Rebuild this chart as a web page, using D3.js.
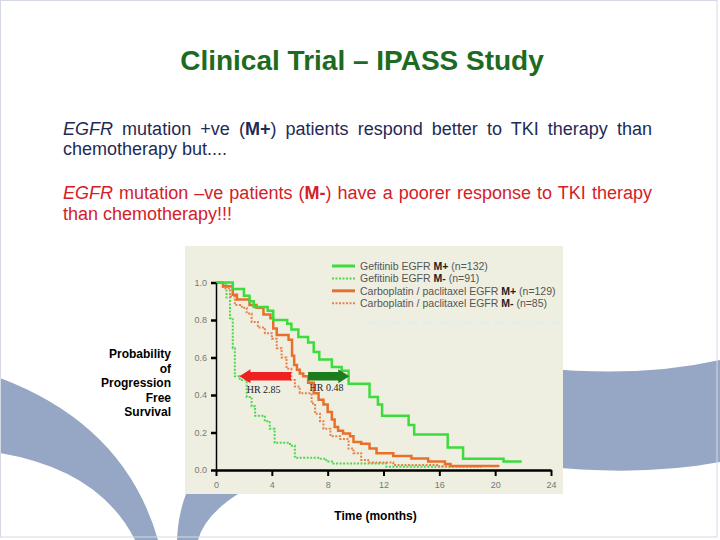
<!DOCTYPE html>
<html>
<head>
<meta charset="utf-8">
<script src="https://cdn.jsdelivr.net/npm/d3@7"></script>
<style>
  body { margin: 0; background: #fff; }
  svg { display: block; }
</style>
</head>
<body>
<svg></svg>
<script>
// Kaplan-Meier style step data: [month, probability]
let gefitinibPos = [[0,1.0],[1.2,0.965],[2.0,0.93],[2.4,0.90],[2.7,0.87],[3.7,0.85],[4.1,0.80],[5.1,0.78],[5.4,0.75],[5.9,0.71],[6.6,0.68],[7.0,0.63],[7.4,0.59],[8.3,0.55],[9.0,0.53],[9.5,0.46],[11.0,0.39],[11.6,0.35],[11.9,0.29],[13.8,0.24],[14.2,0.19],[16.6,0.12],[17.7,0.06],[20.6,0.045],[21.9,0.045]];
let gefitinibNeg = [[0,1.0],[0.5,0.99],[0.75,0.92],[1.0,0.81],[1.2,0.65],[1.35,0.5],[1.7,0.48],[2.2,0.39],[2.55,0.34],[2.8,0.29],[3.5,0.26],[3.85,0.22],[4.2,0.145],[5.3,0.13],[5.65,0.065],[7.4,0.06],[7.9,0.045],[8.4,0.035],[12.2,0.018],[19.0,0.018]];
let carboPos = [[0,1.0],[0.5,0.98],[1.2,0.935],[1.5,0.91],[2.4,0.88],[2.9,0.865],[3.4,0.83],[3.9,0.81],[4.1,0.755],[4.35,0.72],[5.2,0.695],[5.45,0.61],[5.6,0.56],[5.8,0.535],[6.0,0.515],[6.25,0.5],[6.6,0.465],[7.0,0.41],[7.35,0.375],[7.7,0.35],[8.0,0.31],[8.3,0.27],[8.5,0.23],[8.75,0.21],[9.1,0.195],[9.6,0.18],[9.85,0.15],[10.4,0.14],[11.0,0.115],[11.5,0.09],[12.7,0.075],[14.0,0.062],[15.2,0.045],[16.4,0.032],[16.8,0.021],[20.3,0.021]];
let carboNeg = [[0,1.0],[0.5,0.97],[1.0,0.925],[1.35,0.88],[1.85,0.865],[2.2,0.835],[2.55,0.79],[3.0,0.76],[3.5,0.73],[4.0,0.70],[4.35,0.65],[4.7,0.60],[5.05,0.54],[5.4,0.48],[5.65,0.445],[6.0,0.41],[6.85,0.355],[7.1,0.30],[7.45,0.26],[7.7,0.22],[8.2,0.18],[8.9,0.165],[9.5,0.115],[9.85,0.09],[10.4,0.053],[10.9,0.04],[12.7,0.027],[16.0,0.02],[19.2,0.02]];

let monthTicks = [0, 4, 8, 12, 16, 20, 24];
let probTicks = [0, 0.2, 0.4, 0.6, 0.8, 1.0];

let legendNames = ['Gefitinib EGFR ', 'Gefitinib EGFR ', 'Carboplatin / paclitaxel EGFR ', 'Carboplatin / paclitaxel EGFR '];
let legendGroups = ['M+', 'M-', 'M+', 'M-'];
let legendCounts = [' (n=132)', ' (n=91)', ' (n=129)', ' (n=85)'];

// hazard ratio arrows: [from month, to month, probability]
let hrLabels = ['HR 2.85', 'HR 0.48'];
let hrArrows = [[5.37, 1.68, 0.5], [6.6, 9.55, 0.5]];

let width = 720;
let height = 540;

let svg = d3.select('svg').attr('width', width).attr('height', height);

let xScale;
let yScale;

let drawBackground = () => {
  svg.append('rect').attr('width', width).attr('height', height).attr('fill', '#fff');
  let band = '#95a7c4';
  svg.append('path').attr('fill', band)
     .attr('d', 'M0,378 Q125,425 158,540 L135,540 Q100,470 0,453 Z');
  svg.append('path').attr('fill', band)
     .attr('d', 'M186,494 L238,494 Q205,515 198,540 L177,540 Q178,515 186,494 Z');
  svg.append('path').attr('fill', band)
     .attr('d', 'M540,368 Q640,378 720,360 L720,462 Q640,477 540,466 Z');
  svg.append('rect').attr('x', 0.5).attr('y', 0.5).attr('width', 716.5).attr('height', 536.5)
     .attr('fill', 'none').attr('stroke', '#d5d9e6');
  // chart panel
  svg.append('rect').attr('x', 185).attr('y', 246).attr('width', 378).attr('height', 248)
     .attr('fill', '#efefe1');
  svg.append('line').attr('x1', 368).attr('x2', 563).attr('y1', 323).attr('y2', 323)
     .attr('stroke', '#dff0ee').attr('stroke-width', 3).attr('stroke-dasharray', '14,4');
}

let drawText = () => {
  svg.append('text').attr('x', 362).attr('y', 70).attr('text-anchor', 'middle')
     .attr('font-family', 'Liberation Sans, Arial, sans-serif').attr('font-weight', 'bold')
     .attr('font-size', 28).attr('fill', '#1d6b20')
     .text('Clinical Trial \u2013 IPASS Study');

  let para = (y, color, parts, justify) => {
    let t = svg.append('text').attr('x', 63).attr('y', y)
       .attr('font-family', 'Liberation Sans, Arial, sans-serif').attr('font-size', 18)
       .attr('fill', color);
    parts.forEach(p => {
      let s = t.append('tspan').text(p[0]);
      if (p[1] === 'i') s.attr('font-style', 'italic');
      if (p[1] === 'b') s.attr('font-weight', 'bold');
    });
    if (justify) {
      let natural = t.node().getComputedTextLength();
      let full = parts.map(p => p[0]).join('');
      let spaces = full.split(' ').length - 1;
      t.attr('word-spacing', (589 - natural) / spaces);
    }
  }
  let blue = '#1f2a55';
  let red = '#d42027';
  para(134.5, blue, [['EGFR', 'i'], [' mutation +ve ('], ['M+', 'b'], [') patients respond better to TKI therapy than']], true);
  para(155, blue, [['chemotherapy but....']], false);
  para(199, red, [['EGFR', 'i'], [' mutation \u2013ve patients ('], ['M-', 'b'], [') have a poorer response to TKI therapy']], true);
  para(220, red, [['than chemotherapy!!!']], false);

  let ylab = ['Probability', 'of', 'Progression', 'Free', 'Survival'];
  svg.append('g').selectAll('text').data(ylab).enter().append('text')
     .attr('x', 171).attr('y', (d, i) => 358 + i * 14.5).attr('text-anchor', 'end')
     .attr('font-family', 'Liberation Sans, Arial, sans-serif').attr('font-weight', 'bold')
     .attr('font-size', 12).attr('fill', '#000').text(d => d);

  svg.append('text').attr('x', 375.5).attr('y', 520).attr('text-anchor', 'middle')
     .attr('font-family', 'Liberation Sans, Arial, sans-serif').attr('font-weight', 'bold')
     .attr('font-size', 12).attr('fill', '#000').text('Time (months)');
}

let generateScales = () => {
  xScale = d3.scaleLinear().domain([0, 24]).range([216, 551]);
  yScale = d3.scaleLinear().domain([0, 1]).range([470, 282.5]);
}

let generateAxes = () => {
  let xAxis = d3.axisBottom(xScale).tickValues(monthTicks).tickSize(6).tickSizeOuter(0).tickPadding(6);
  let gx = svg.append('g').attr('transform', `translate(0, ${yScale(0)})`).call(xAxis);
  gx.select('.domain').attr('stroke-width', 2.5);
  gx.selectAll('.tick line').attr('stroke-width', 2);
  gx.selectAll('.tick text').attr('font-family', 'Liberation Sans, Arial, sans-serif')
    .attr('font-size', 9).attr('fill', '#777');

  let yAxis = d3.axisLeft(yScale).tickValues(probTicks).tickSize(5).tickSizeOuter(0)
                .tickPadding(4).tickFormat(d3.format('.1f'));
  let gy = svg.append('g').attr('transform', `translate(${xScale(0)}, 0)`).call(yAxis);
  gy.select('.domain').attr('stroke-width', 1.5);
  gy.selectAll('.tick line').attr('stroke-width', 2.5);
  gy.selectAll('.tick text').attr('font-family', 'Liberation Sans, Arial, sans-serif')
    .attr('font-size', 9).attr('fill', '#777');
}

let drawCurves = () => {
  let line = d3.line().x(d => xScale(d[0])).y(d => yScale(d[1])).curve(d3.curveStepAfter);
  let curves = [
    [gefitinibNeg, '#4ed84e', true],
    [carboNeg, '#e8824a', true],
    [carboPos, '#e8702a', false],
    [gefitinibPos, '#3ddc3d', false]
  ];
  curves.forEach(c => {
    svg.append('path').datum(c[0]).attr('d', line).attr('fill', 'none')
       .attr('stroke', c[1]).attr('stroke-width', c[2] ? 2 : 2.5)
       .attr('stroke-dasharray', c[2] ? '2,1.5' : null);
  });
}

let drawArrows = () => {
  let colors = ['#ee2020', '#1c7d1c'];
  hrArrows.forEach((a, i) => {
    let x0 = xScale(a[0]);
    let x1 = xScale(a[1]);
    let y = yScale(a[2]);
    let dir = x1 > x0 ? 1 : -1;
    let hx = x1 - dir * 11;
    let pts = [[x0, y - 4.3], [hx, y - 4.3], [hx, y - 7], [x1, y], [hx, y + 7], [hx, y + 4.3], [x0, y + 4.3]];
    svg.append('polygon').attr('points', pts.map(p => p.join(',')).join(' ')).attr('fill', colors[i]);
  });
  let labelPos = [[2.2, 0.41], [6.7, 0.42]];
  svg.append('g').selectAll('text').data(hrLabels).enter().append('text')
     .attr('x', (d, i) => xScale(labelPos[i][0])).attr('y', (d, i) => yScale(labelPos[i][1]))
     .attr('font-family', 'Liberation Serif, Times New Roman, serif').attr('font-size', 10)
     .attr('fill', '#222').text(d => d);
}

let drawLegend = () => {
  let styles = [['#3ddc3d', false], ['#4ed84e', true], ['#e8702a', false], ['#e8824a', true]];
  legendNames.forEach((name, i) => {
    let y = 266 + i * 12.4;
    svg.append('line').attr('x1', 332).attr('x2', 355).attr('y1', y).attr('y2', y)
       .attr('stroke', styles[i][0]).attr('stroke-width', styles[i][1] ? 2 : 3)
       .attr('stroke-dasharray', styles[i][1] ? '2,1.5' : null);
    let t = svg.append('text').attr('x', 360).attr('y', y + 3.7)
       .attr('font-family', 'Liberation Sans, Arial, sans-serif').attr('font-size', 10.5)
       .attr('fill', '#555');
    t.append('tspan').text(name);
    t.append('tspan').attr('font-weight', 'bold').attr('fill', '#222').text(legendGroups[i]);
    t.append('tspan').text(legendCounts[i]);
  });
}

drawBackground();
drawText();
generateScales();
drawCurves();
generateAxes();
drawArrows();
drawLegend();
</script>
</body>
</html>
